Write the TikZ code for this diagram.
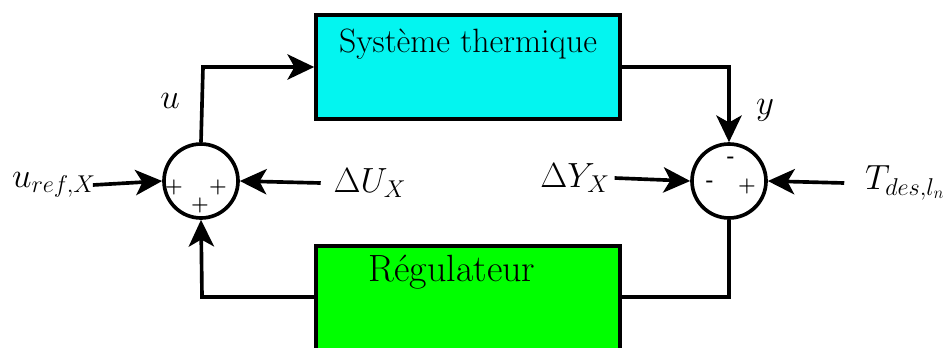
\documentclass[tikz,border=0pt]{standalone}
\usepackage{amsmath, amssymb}
\usepackage{xcolor}
\usepackage{tikz}
\usetikzlibrary{arrows.meta, positioning, calc}
\definecolor{plantcyan}{HTML}{03F5F0}
\definecolor{ctrlgreen}{HTML}{00FF00}

\tikzset{
    blockbox/.style={draw, line width=2.6pt, minimum width=7.6cm, inner sep=0pt},
    sumnode/.style={draw, circle, line width=2.6pt, minimum size=1.85cm, inner sep=0pt},
    signlbl/.style={font=\Large\bfseries, inner sep=0pt},
    wire/.style={line width=2.6pt},
    sig/.style={wire, -{Stealth[length=19pt, width=18pt, inset=5pt]}},
}

\begin{document}
\begin{tikzpicture}[font=\fontsize{24}{28}\selectfont]
    \clip (0, 0) rectangle (23.625, 8.675);
    \useasboundingbox (0, 0) rectangle (23.625, 8.675);

    % ── BLOCKS ────────────────────────────────────────────────────────
    \node[blockbox, fill=plantcyan, minimum height=2.6cm] (plant) at (11.7, 7.0) {};
    \node (plantlbl) at (11.7, 7.575) {Système thermique};
    \node[blockbox, fill=ctrlgreen, minimum height=2.8cm, anchor=north] (ctrl) at (11.7, 2.575) {};
    \node[font=\fontsize{27}{31}\selectfont] (ctrllbl) at (11.3, 1.875) {Régulateur};

    % ── SUMMING JUNCTIONS ─────────────────────────────────────────────
    \node[sumnode] (sumL) at (5.025, 4.15) {};
    \node[signlbl] (sL1) at (4.35, 4.0) {+};
    \node[signlbl] (sL2) at (5.45, 4.0) {+};
    \node[signlbl] (sL3) at (5.0, 3.55) {+};

    \node[sumnode] (sumR) at (18.225, 4.15) {};
    \node[signlbl] (sR1) at (18.275, 4.675) {-};
    \node[signlbl] (sR2) at (17.75, 4.075) {-};
    \node[signlbl] (sR3) at (18.675, 4.025) {+};

    % ── LABELS ────────────────────────────────────────────────────────
    \node (uref) at (1.35, 4.05) {$u_{ref,X}$};
    \node (dU) at (9.25, 4.1) {$\Delta U_X$};
    \node (ulbl) at (4.25, 6.15) {$u$};
    \node (ylbl) at (19.125, 5.925) {$y$};
    \node (dY) at (14.375, 4.225) {$\Delta Y_X$};
    \node (Tdes) at (22.625, 4.1) {$T_{des,l_n}$};

    \coordinate (cTL) at (5.075, 7.0);
    \coordinate (cTR) at (18.225, 7.0);
    \coordinate (cBR) at (18.225, 1.25);
    \coordinate (cBL) at (5.05, 1.25);

    % ── CONNECTORS ────────────────────────────────────────────────────
    \draw[sig] ([xshift=-0.2cm]uref.east) -- (sumL.west);
    \draw[sig] ([xshift=-0.2cm]dU.west) -- (sumL.east);
    \draw[sig] (sumL.north) -- (cTL) -- (plant.west);
    \draw[sig] (plant.east) -- (cTR) -- (sumR.north);
    \draw[sig] (dY.east) -- (sumR.west);
    \draw[sig] ([xshift=-0.4cm]Tdes.west) -- (sumR.east);
    \draw[wire] (sumR.south) -- (cBR) -- (ctrl.east |- cBR);
    \draw[sig] (ctrl.west |- cBL) -- (cBL) -- (sumL.south);
\end{tikzpicture}
\end{document}
